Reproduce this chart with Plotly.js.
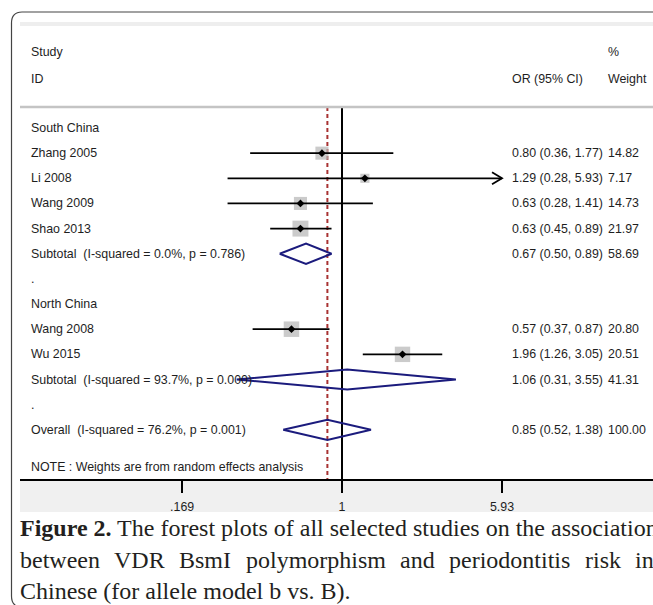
<!DOCTYPE html>
<html><head><meta charset="utf-8">
<script src="https://cdn.plot.ly/plotly-3.0.1.min.js"></script>
<style>html,body{margin:0;padding:0;background:#fff;overflow:hidden}</style>
</head><body><div id="chart" style="width:653px;height:605px"></div>
<script>
// ---------- data ----------
const rowLabels = ['South China','Zhang 2005','Li 2008','Wang 2009','Shao 2013',
  'Subtotal  (I-squared = 0.0%, p = 0.786)','.','North China','Wang 2008','Wu 2015',
  'Subtotal  (I-squared = 93.7%, p = 0.000)','.','Overall  (I-squared = 76.2%, p = 0.001)'];

const studyNames  = ['Zhang 2005','Li 2008','Wang 2009','Shao 2013','Wang 2008','Wu 2015'];
const studyOR     = [0.80, 1.29, 0.63, 0.63, 0.57, 1.96];
const studyLo     = [0.36, 0.28, 0.28, 0.45, 0.37, 1.26];
const studyHi     = [1.77, 5.93, 1.41, 0.89, 0.87, 3.05];
const studyWeight = [14.82, 7.17, 14.73, 21.97, 20.80, 20.51];

const pooledNames  = ['Subtotal  (I-squared = 0.0%, p = 0.786)',
                      'Subtotal  (I-squared = 93.7%, p = 0.000)',
                      'Overall  (I-squared = 76.2%, p = 0.001)'];
const pooledOR     = [0.67, 1.06, 0.85];
const pooledLo     = [0.50, 0.31, 0.52];
const pooledHi     = [0.89, 3.55, 1.38];
const pooledWeight = [58.69, 41.31, 100.00];

const tickVals   = [0.169, 1, 5.93];
const tickLabels = ['.169', '1', '5.93'];

const noteText = 'NOTE : Weights are from random effects analysis';
const captionBold = 'Figure 2.';
const captionLine1 = 'The forest plots of all selected studies on the association';
const captionLine2 = 'between VDR BsmI polymorphism and periodontitis risk in';
const captionLine3 = 'Chinese (for allele model b vs. B).';

// ---------- geometry / style ----------
const W = 653, H = 605;
const px = x => x / W;
const py = y => 1 - y / H;
const X_ONE = 342, PPD = 207, PLOT_L = 20, PLOT_R = 653;
const ROW0 = 128, ROWH = 25.15, PLOT_T = 107, PLOT_B = 479;
const yTopVal = (PLOT_T - ROW0) / ROWH, yBotVal = (PLOT_B - ROW0) / ROWH;
const FONT = 'Liberation Sans, Arial, sans-serif';
const TXT = '#1e1e1e';
const NAVY = '#1b1b7d';

const rowOf = name => rowLabels.indexOf(name);
const nb = s => s.replace(/  /g, ' \u00a0');
const f2 = v => v.toFixed(2);

// ---------- traces ----------
const traces = [];
const overall = pooledOR[pooledOR.length - 1];
traces.push({x:[overall, overall], y:[yTopVal, yBotVal], mode:'lines',
  line:{color:'#a83232', width:2, dash:'4px,3px'}, hoverinfo:'skip'});
traces.push({x:[1, 1], y:[yTopVal, yBotVal], mode:'lines',
  line:{color:'#000', width:2}, hoverinfo:'skip'});
traces.push({x:studyOR, y:studyNames.map(rowOf), mode:'markers',
  marker:{symbol:'square', color:'#b5b5b5', size:studyWeight.map(w => 3.4*Math.sqrt(w)), line:{width:0}},
  hoverinfo:'skip'});
const ciX = [], ciY = [];
studyNames.forEach((n, i) => { ciX.push(studyLo[i], studyHi[i], null); ciY.push(rowOf(n), rowOf(n), null); });
traces.push({x:ciX, y:ciY, mode:'lines', line:{color:'#000', width:1.8}, connectgaps:false, hoverinfo:'skip'});
const axMax = tickVals[tickVals.length - 1];
const arrX = [], arrY = [];
const back = Math.pow(10, 10 / PPD);
studyNames.forEach((n, i) => {
  if (studyHi[i] >= axMax) {
    const r = rowOf(n);
    arrX.push(axMax / back, axMax, axMax / back, null);
    arrY.push(r - 0.24, r, r + 0.24, null);
  }
});
traces.push({x:arrX, y:arrY, mode:'lines', line:{color:'#000', width:1.8}, hoverinfo:'skip'});
const dX = [], dY = [];
pooledNames.forEach((n, i) => {
  const r = rowOf(n);
  dX.push(pooledLo[i], pooledOR[i], pooledHi[i], pooledOR[i], pooledLo[i], null);
  dY.push(r, r - 0.4, r, r + 0.4, r, null);
});
traces.push({x:dX, y:dY, mode:'lines', line:{color:NAVY, width:2}, connectgaps:false, hoverinfo:'skip'});
traces.push({x:studyOR, y:studyNames.map(rowOf), mode:'markers',
  marker:{symbol:'diamond', color:'#000', size:6}, hoverinfo:'skip'});

// ---------- annotations ----------
const ann = [];
const tf = {family:FONT, size:12.4, color:TXT};
const addTxt = (x, y, text, yref) => ann.push({xref:'paper', yref:yref || 'y', x:px(x), y:y, text:text,
  showarrow:false, xanchor:'left', yanchor:'middle', font:tf});
rowLabels.forEach((l, i) => addTxt(28.5, i, nb(l)));
studyNames.forEach((n, i) => {
  addTxt(509.5, rowOf(n), `${f2(studyOR[i])} (${f2(studyLo[i])}, ${f2(studyHi[i])})`);
  addTxt(605.5, rowOf(n), f2(studyWeight[i]));
});
pooledNames.forEach((n, i) => {
  addTxt(509.5, rowOf(n), `${f2(pooledOR[i])} (${f2(pooledLo[i])}, ${f2(pooledHi[i])})`);
  addTxt(605.5, rowOf(n), f2(pooledWeight[i]));
});
addTxt(28.5, py(52), 'Study', 'paper');
addTxt(28.5, py(79), 'ID', 'paper');
addTxt(605.5, py(52), '%', 'paper');
addTxt(605.5, py(79), 'Weight', 'paper');
addTxt(509.5, py(79), 'OR (95% CI)', 'paper');
addTxt(28.5, py(467), noteText, 'paper');

// caption
const CAP_FONT = 'Liberation Serif, Times New Roman, serif';
const CAP_SIZE = 24;
const capf = {family:CAP_FONT, size:CAP_SIZE, color:'#231f20'};
ann.push({xref:'paper', yref:'paper', x:px(18), y:py(528), xanchor:'left', yanchor:'middle', showarrow:false,
  text:`<b>${captionBold}</b> ${captionLine1}`, font:capf});
ann.push({xref:'paper', yref:'paper', x:px(18), y:py(591), xanchor:'left', yanchor:'middle', showarrow:false,
  text:captionLine3, font:capf});
const ctx = document.createElement('canvas').getContext('2d');
ctx.font = `${CAP_SIZE}px "Liberation Serif"`;
const words = captionLine2.split(' ');
const wW = words.map(w => ctx.measureText(w).width);
const total = wW.reduce((a, b) => a + b, 0);
const L = 20, R = 654;
const gap = (R - L - total) / (words.length - 1);
let cx = L;
words.forEach((w, i) => {
  ann.push({xref:'paper', yref:'paper', x:px(cx - 2), y:py(560), xanchor:'left', yanchor:'middle', showarrow:false,
    text:w, font:capf});
  cx += wW[i] + gap;
});

// ---------- shapes ----------
const shapes = [
  {type:'rect', xref:'paper', yref:'paper', x0:px(PLOT_L), x1:px(PLOT_R), y0:py(512), y1:py(PLOT_B), fillcolor:'#f0f0f0', line:{width:0}, layer:'below'},
  {type:'rect', xref:'paper', yref:'paper', x0:px(PLOT_L), x1:px(PLOT_R), y0:py(26), y1:py(22), fillcolor:'#eeeeee', line:{width:0}, layer:'below'},
  {type:'line', xref:'paper', yref:'paper', x0:px(PLOT_L), x1:px(PLOT_R), y0:py(107), y1:py(107), line:{color:'#c4c4c4', width:2.5}},
  {type:'path', xref:'paper', yref:'paper',
   path:`M ${px(22)},${py(607)} Q ${px(11.5)},${py(607)} ${px(11.5)},${py(596)} L ${px(11.5)},${py(23)} Q ${px(11.5)},${py(12)} ${px(22)},${py(12)} L ${px(665)},${py(12)}`,
   line:{color:'#444', width:1.2}}
];

const layout = {
  width:W, height:H, margin:{l:0, r:0, t:0, b:0},
  paper_bgcolor:'#fff', plot_bgcolor:'rgba(0,0,0,0)', showlegend:false,
  xaxis:{type:'log', domain:[px(PLOT_L), px(PLOT_R)],
    range:[(PLOT_L - X_ONE) / PPD, (PLOT_R - X_ONE) / PPD],
    tickvals:tickVals, ticktext:tickLabels, ticks:'outside', ticklen:12, tickwidth:2, tickcolor:'#000',
    ticklabelstandoff:3,
    showline:true, linecolor:'#000', linewidth:2, showgrid:false, zeroline:false,
    tickfont:{family:FONT, size:12.4, color:TXT}, fixedrange:true},
  yaxis:{domain:[py(PLOT_B), py(PLOT_T)], range:[yBotVal, yTopVal], visible:false, fixedrange:true},
  annotations:ann, shapes:shapes
};

Plotly.newPlot('chart', traces, layout, {staticPlot:true, displayModeBar:false});
</script></body></html>
